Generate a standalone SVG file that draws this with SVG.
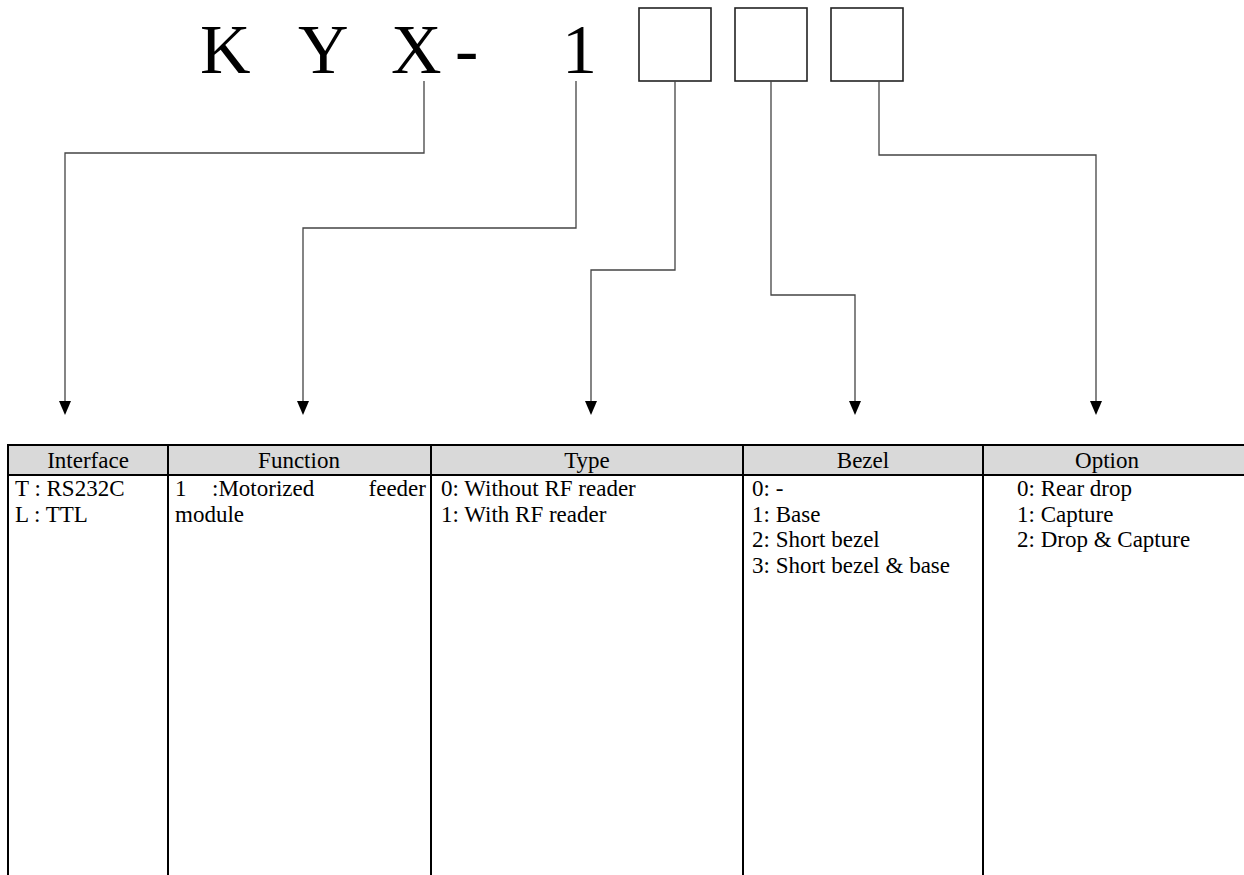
<svg xmlns="http://www.w3.org/2000/svg" width="1244" height="875" viewBox="0 0 1244 875">
<style>
.t{font-family:"Liberation Serif","Times New Roman",serif;fill:#000}
.big{font-size:70px}
.h{font-size:23px;text-anchor:middle}
.b{font-size:23px}
.conn{fill:none;stroke:#444;stroke-width:1.3}
.box{fill:#fff;stroke:#222;stroke-width:1.6}
.grid{stroke:#000;stroke-width:2}
</style>
<defs>
<marker id="ah" viewBox="0 0 14 12" refX="0" refY="6" markerWidth="14" markerHeight="12" markerUnits="userSpaceOnUse" orient="auto">
<path d="M0,0 L14,6 L0,12 Z" fill="#000"/>
</marker>
</defs>
<rect width="1244" height="875" fill="#fff"/>
<g id="code">
<text class="t big" x="200" y="73">K</text>
<text class="t big" x="298" y="73">Y</text>
<text class="t big" x="391" y="73">X</text>
<text class="t big" x="455" y="73">-</text>
<text class="t big" x="562" y="73">1</text>
</g>
<g id="box1"><rect class="box" x="639" y="8" width="72" height="73"/></g>
<g id="box2"><rect class="box" x="735" y="8" width="72" height="73"/></g>
<g id="box3"><rect class="box" x="831" y="8" width="72" height="73"/></g>
<g id="connectors">
<path class="conn" d="M424,81 V153 H65 V401" marker-end="url(#ah)"/>
<path class="conn" d="M576,81 V228 H303 V401" marker-end="url(#ah)"/>
<path class="conn" d="M675,81 V270 H591 V401" marker-end="url(#ah)"/>
<path class="conn" d="M771,81 V295 H855 V401" marker-end="url(#ah)"/>
<path class="conn" d="M879,81 V155 H1096 V401" marker-end="url(#ah)"/>
</g>
<g id="table">
<rect x="8" y="445" width="1236" height="30" fill="#d9d9d9"/>
<line class="grid" x1="8" y1="445" x2="1244" y2="445"/>
<line class="grid" x1="8" y1="475" x2="1244" y2="475"/>
<line class="grid" x1="8" y1="444" x2="8" y2="875"/>
<line class="grid" x1="168" y1="444" x2="168" y2="875"/>
<line class="grid" x1="431" y1="444" x2="431" y2="875"/>
<line class="grid" x1="743" y1="444" x2="743" y2="875"/>
<line class="grid" x1="983" y1="444" x2="983" y2="875"/>
</g>
<g id="col-interface">
<text class="t h" x="88" y="468">Interface</text>
<text class="t b" x="15" y="496">T : RS232C</text>
<text class="t b" x="15" y="521.5">L : TTL</text>
</g>
<g id="col-function">
<text class="t h" x="299" y="468">Function</text>
<text class="t b" x="175" y="496">1</text>
<text class="t b" x="212" y="496">:Motorized</text>
<text class="t b" x="426" y="496" text-anchor="end">feeder</text>
<text class="t b" x="175" y="521.5">module</text>
</g>
<g id="col-type">
<text class="t h" x="587" y="468">Type</text>
<text class="t b" x="441" y="496">0: Without RF reader</text>
<text class="t b" x="441" y="521.5">1: With RF reader</text>
</g>
<g id="col-bezel">
<text class="t h" x="863" y="468">Bezel</text>
<text class="t b" x="752" y="496">0: -</text>
<text class="t b" x="752" y="521.5">1: Base</text>
<text class="t b" x="752" y="547">2: Short bezel</text>
<text class="t b" x="752" y="572.5">3: Short bezel &amp; base</text>
</g>
<g id="col-option">
<text class="t h" x="1107" y="468">Option</text>
<text class="t b" x="1017" y="496">0: Rear drop</text>
<text class="t b" x="1017" y="521.5">1: Capture</text>
<text class="t b" x="1017" y="547">2: Drop &amp; Capture</text>
</g>
</svg>
